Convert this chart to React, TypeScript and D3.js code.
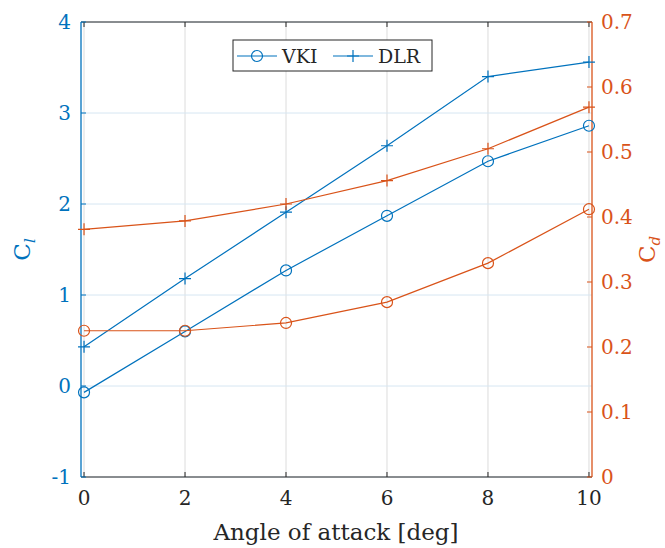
import React from "react";
import * as d3 from "d3";

const alpha = [0, 2, 4, 6, 8, 10];
const clVKI = [-0.07, 0.6, 1.27, 1.87, 2.47, 2.86];
const clDLR = [0.43, 1.18, 1.91, 2.64, 3.4, 3.56];
const cdVKI = [0.225, 0.225, 0.237, 0.269, 0.329, 0.412];
const cdDLR = [0.381, 0.394, 0.42, 0.456, 0.505, 0.569];
const xTicks = [0, 2, 4, 6, 8, 10];
const yLeftTicks = [-1, 0, 1, 2, 3, 4];
const yRightTicks = [0, 0.1, 0.2, 0.3, 0.4, 0.5, 0.6, 0.7];

const BLUE = "#0072BD";
const ORANGE = "#D95319";
const FONT = "DejaVu Serif";

export default function App() {
  const W = 665, H = 548;
  const L = 81, R = 592, T = 22, B = 477;
  const x = d3.scaleLinear().domain([-0.06, 10.06]).range([L, R]);
  const yl = d3.scaleLinear().domain([-1, 4]).range([B, T]);
  const yr = d3.scaleLinear().domain([0, 0.7]).range([B, T]);

  const lineL = (vals: number[]) =>
    d3.line<number>().x((_, i) => x(alpha[i])).y((d) => yl(d))(vals) || "";
  const lineR = (vals: number[]) =>
    d3.line<number>().x((_, i) => x(alpha[i])).y((d) => yr(d))(vals) || "";

  const circle = (cx: number, cy: number, c: string, k: string) => (
    <circle key={k} cx={cx} cy={cy} r={5.5} fill="none" stroke={c} strokeWidth={1.2} />
  );
  const plus = (cx: number, cy: number, c: string, k: string) => (
    <path key={k} d={`M${cx - 6},${cy}H${cx + 6}M${cx},${cy - 6}V${cy + 6}`} stroke={c} strokeWidth={1.2} />
  );
  const ts = { fontFamily: FONT };

  return (
    <svg width={W} height={H} style={{ position: "absolute", left: 0, top: 0, background: "#fff" }}>
      <rect x={0} y={0} width={W} height={H} fill="#fff" />
      {xTicks.map((t) => (
        <line key={"gx" + t} x1={x(t)} x2={x(t)} y1={T} y2={B} stroke="#dcdcdc" strokeWidth={1} />
      ))}
      {yLeftTicks.map((t) => (
        <line key={"gy" + t} x1={L} x2={R} y1={yl(t)} y2={yl(t)} stroke="#d6e6f2" strokeWidth={1} />
      ))}
      <line x1={L} x2={R} y1={T} y2={T} stroke="#262626" strokeWidth={1} />
      <line x1={L} x2={R} y1={B} y2={B} stroke="#262626" strokeWidth={1} />
      {xTicks.map((t) => (
        <g key={"xt" + t}>
          <line x1={x(t)} x2={x(t)} y1={B} y2={B - 5} stroke="#262626" />
          <line x1={x(t)} x2={x(t)} y1={T} y2={T + 5} stroke="#262626" />
          <text x={x(t)} y={B + 28} textAnchor="middle" style={ts} fontSize={20} fill="#262626">
            {t}
          </text>
        </g>
      ))}
      <line x1={L} x2={L} y1={T} y2={B} stroke={BLUE} strokeWidth={1.3} />
      {yLeftTicks.map((t) => (
        <g key={"yl" + t}>
          <line x1={L} x2={L + 5} y1={yl(t)} y2={yl(t)} stroke={BLUE} />
          <text x={L - 10} y={yl(t) + 7} textAnchor="end" style={ts} fontSize={20} fill={BLUE}>
            {t}
          </text>
        </g>
      ))}
      <line x1={R} x2={R} y1={T} y2={B} stroke={ORANGE} strokeWidth={1.3} />
      {yRightTicks.map((t) => (
        <g key={"yr" + t}>
          <line x1={R} x2={R - 5} y1={yr(t)} y2={yr(t)} stroke={ORANGE} />
          <text x={R + 9} y={yr(t) + 7} textAnchor="start" style={ts} fontSize={20} fill={ORANGE}>
            {t === 0 ? "0" : t.toFixed(1)}
          </text>
        </g>
      ))}
      <text x={336} y={540} textAnchor="middle" style={ts} fontSize={23} fill="#262626">
        Angle of attack [deg]
      </text>
      <text transform={`translate(30,${(T + B) / 2}) rotate(-90)`} textAnchor="middle" style={ts} fontSize={23} fill={BLUE}>
        C<tspan fontSize={15} dy={5} fontStyle="italic">l</tspan>
      </text>
      <text transform={`translate(655,${(T + B) / 2}) rotate(-90)`} textAnchor="middle" style={ts} fontSize={23} fill={ORANGE}>
        C<tspan fontSize={15} dy={5} fontStyle="italic">d</tspan>
      </text>
      <path d={lineL(clVKI)} fill="none" stroke={BLUE} strokeWidth={1.2} />
      <path d={lineL(clDLR)} fill="none" stroke={BLUE} strokeWidth={1.2} />
      <path d={lineR(cdVKI)} fill="none" stroke={ORANGE} strokeWidth={1.2} />
      <path d={lineR(cdDLR)} fill="none" stroke={ORANGE} strokeWidth={1.2} />
      {clVKI.map((v, i) => circle(x(alpha[i]), yl(v), BLUE, "cv" + i))}
      {clDLR.map((v, i) => plus(x(alpha[i]), yl(v), BLUE, "cd" + i))}
      {cdVKI.map((v, i) => circle(x(alpha[i]), yr(v), ORANGE, "dv" + i))}
      {cdDLR.map((v, i) => plus(x(alpha[i]), yr(v), ORANGE, "dd" + i))}
      <rect x={233} y={40} width={199} height={31} fill="#fff" stroke="#262626" strokeWidth={1} />
      <line x1={237} x2={277} y1={56} y2={56} stroke={BLUE} strokeWidth={1.2} />
      {circle(257, 56, BLUE, "lg1")}
      <text x={282} y={63} style={ts} fontSize={19} fill="#262626">VKI</text>
      <line x1={333} x2={373} y1={56} y2={56} stroke={BLUE} strokeWidth={1.2} />
      {plus(353, 56, BLUE, "lg2")}
      <text x={378} y={63} style={ts} fontSize={19} fill="#262626">DLR</text>
    </svg>
  );
}
